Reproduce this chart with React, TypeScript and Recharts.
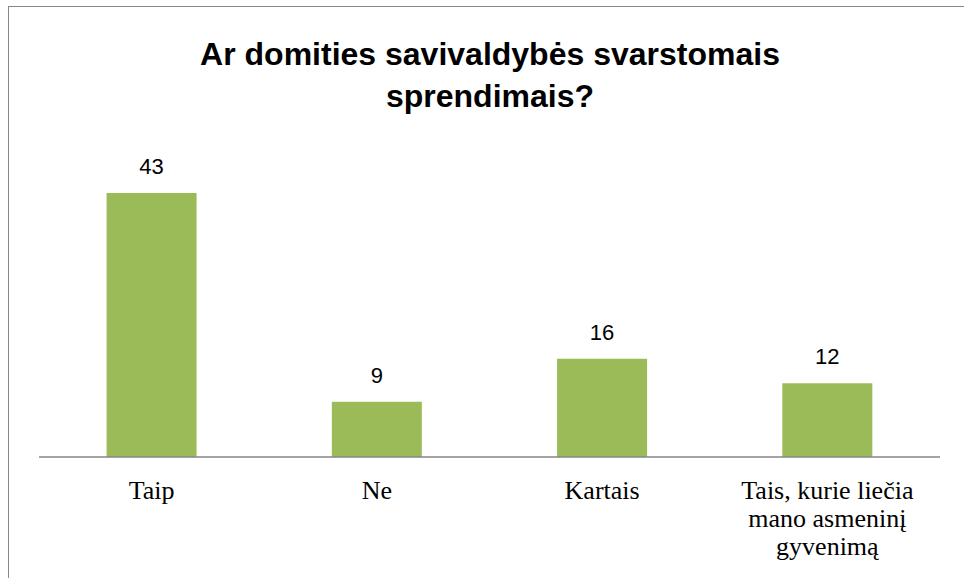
import { BarChart, Bar, XAxis, YAxis, LabelList } from "recharts";

const categories = ["Taip", "Ne", "Kartais", "Tais, kurie liečia mano asmeninį gyvenimą"];
const values = [43, 9, 16, 12];
const tickLines: Record<string, string[]> = {
    "Tais, kurie liečia mano asmeninį gyvenimą": ["Tais, kurie liečia", "mano asmeninį", "gyvenimą"],
};

const data = categories.map((name, i) => ({ name, value: values[i] }));

const CategoryTick = ({ x, y, payload }: any) => {
    const lines = tickLines[payload.value] || [payload.value];
    return (
        <text
            x={x}
            y={y + 34}
            textAnchor="middle"
            fill="#000"
            fontFamily="'Liberation Serif', 'Times New Roman', serif"
            fontSize={26}
        >
            {lines.map((line: string, i: number) => (
                <tspan key={i} x={x} dy={i === 0 ? 0 : 28}>
                    {line}
                </tspan>
            ))}
        </text>
    );
};

const App = () => {
    return (
        <div
            style={{
                position: "absolute",
                left: 0,
                top: 0,
                width: 964,
                height: 578,
                overflow: "hidden",
                background: "#fff",
            }}
        >
            <div
                style={{
                    position: "absolute",
                    left: 8,
                    top: 6,
                    width: 1000,
                    height: 700,
                    border: "1px solid #888",
                }}
            />
            <div
                style={{
                    position: "absolute",
                    left: 0,
                    top: 33,
                    width: 980,
                    textAlign: "center",
                    fontFamily: "'Liberation Sans', Arial, sans-serif",
                    fontWeight: "bold",
                    fontSize: 32,
                    lineHeight: "42px",
                    color: "#000",
                }}
            >
                Ar domities savivaldybės svarstomais
                <br />
                sprendimais?
            </div>
            <div style={{ position: "absolute", left: 0, top: 0 }}>
                <BarChart
                    width={964}
                    height={578}
                    data={data}
                    margin={{ top: 150, right: 24, bottom: 0, left: 39 }}
                    barCategoryGap="30%"
                >
                    <XAxis
                        dataKey="name"
                        height={121}
                        tickLine={false}
                        axisLine={{ stroke: "#868686", strokeWidth: 1.5 }}
                        tick={<CategoryTick />}
                        interval={0}
                    />
                    <YAxis hide domain={[0, 50]} width={0} />
                    <Bar dataKey="value" fill="#9BBB59" isAnimationActive={false}>
                        <LabelList
                            dataKey="value"
                            position="top"
                            offset={19}
                            fill="#000"
                            fontFamily="'Liberation Sans', Arial, sans-serif"
                            fontSize={22}
                        />
                    </Bar>
                </BarChart>
            </div>
        </div>
    );
};

export default App;
